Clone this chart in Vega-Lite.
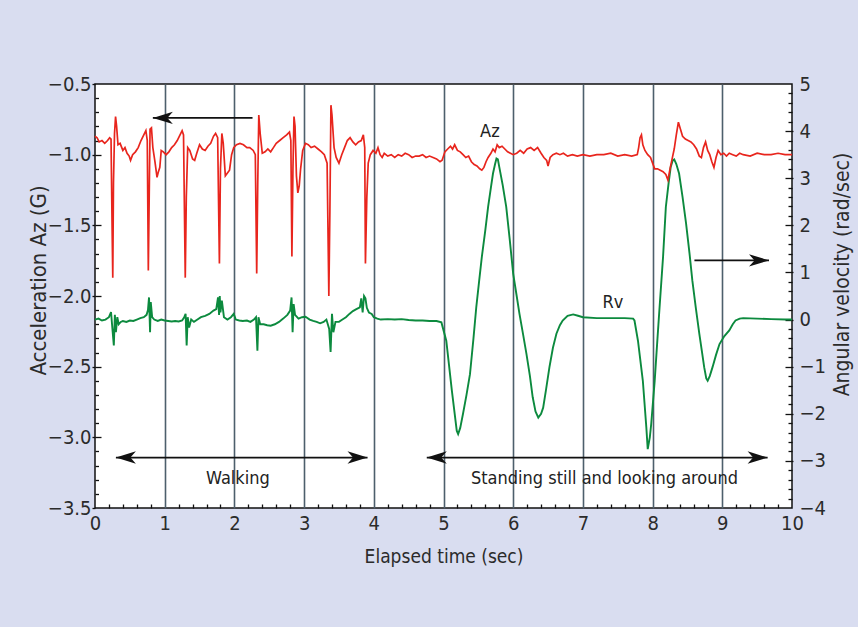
{
  "$schema": "https://vega.github.io/schema/vega-lite/v6.json",
  "width": 697,
  "height": 424,
  "autosize": {"type": "none"},
  "padding": {"left": 95, "top": 84, "right": 66, "bottom": 119},
  "background": "#d9ddf0",
  "config": {
    "view": {"fill": "white", "stroke": "#111111", "strokeWidth": 1.5},
    "axis": {
      "labelFont": "Liberation Sans Narrow, DejaVu Sans Condensed, Roboto Condensed, Arial Narrow, sans-serif",
      "titleFont": "Liberation Sans Narrow, DejaVu Sans Condensed, Roboto Condensed, Arial Narrow, sans-serif",
      "labelColor": "#2b2b2b",
      "titleColor": "#2b2b2b",
      "titleFontWeight": "normal",
      "labelFontSize": 20,
      "titleFontSize": 19,
      "domain": false,
      "grid": false,
      "labelFlush": false,
      "labelOverlap": false,
      "tickColor": "#111111",
      "tickWidth": 1.3
    },
    "text": {"font": "Liberation Sans Narrow, DejaVu Sans Condensed, Roboto Condensed, Arial Narrow, sans-serif"}
  },
  "datasets": {
    "az": [
      {"t":0.00,"v":-0.87},{"t":0.03,"v":-0.88},{"t":0.06,"v":-0.91},{"t":0.10,"v":-0.90},{"t":0.14,"v":-0.92},{"t":0.18,"v":-0.90},{"t":0.21,"v":-0.88},{"t":0.23,"v":-0.89},{"t":0.245,"v":-1.50},{"t":0.255,"v":-1.87},{"t":0.265,"v":-1.20},{"t":0.28,"v":-0.85},{"t":0.295,"v":-0.73},{"t":0.31,"v":-0.80},{"t":0.33,"v":-0.93},{"t":0.36,"v":-0.92},{"t":0.40,"v":-0.97},{"t":0.43,"v":-0.95},{"t":0.46,"v":-0.99},{"t":0.49,"v":-1.01},{"t":0.51,"v":-1.04},{"t":0.54,"v":-1.00},{"t":0.58,"v":-0.98},{"t":0.62,"v":-0.95},{"t":0.66,"v":-0.90},{"t":0.70,"v":-0.86},{"t":0.73,"v":-0.83},{"t":0.75,"v":-0.90},{"t":0.765,"v":-1.82},{"t":0.78,"v":-1.20},{"t":0.79,"v":-0.82},{"t":0.81,"v":-0.81},{"t":0.83,"v":-0.95},{"t":0.86,"v":-1.05},{"t":0.89,"v":-1.16},{"t":0.91,"v":-1.12},{"t":0.93,"v":-1.09},{"t":0.95,"v":-0.97},{"t":0.98,"v":-0.98},{"t":1.02,"v":-1.00},{"t":1.06,"v":-0.98},{"t":1.10,"v":-0.95},{"t":1.14,"v":-0.93},{"t":1.18,"v":-0.90},{"t":1.22,"v":-0.86},{"t":1.25,"v":-0.83},{"t":1.27,"v":-0.86},{"t":1.295,"v":-1.87},{"t":1.31,"v":-1.30},{"t":1.33,"v":-0.95},{"t":1.36,"v":-0.97},{"t":1.40,"v":-1.03},{"t":1.43,"v":-1.04},{"t":1.46,"v":-0.99},{"t":1.50,"v":-0.93},{"t":1.54,"v":-0.96},{"t":1.58,"v":-0.97},{"t":1.62,"v":-0.94},{"t":1.66,"v":-0.92},{"t":1.70,"v":-0.87},{"t":1.73,"v":-0.85},{"t":1.76,"v":-0.88},{"t":1.785,"v":-1.77},{"t":1.80,"v":-1.10},{"t":1.82,"v":-0.85},{"t":1.84,"v":-0.92},{"t":1.87,"v":-1.15},{"t":1.90,"v":-1.13},{"t":1.93,"v":-1.11},{"t":1.96,"v":-1.00},{"t":1.99,"v":-0.95},{"t":2.03,"v":-0.93},{"t":2.08,"v":-0.92},{"t":2.13,"v":-0.93},{"t":2.18,"v":-0.95},{"t":2.22,"v":-0.95},{"t":2.27,"v":-0.97},{"t":2.30,"v":-1.00},{"t":2.32,"v":-1.84},{"t":2.335,"v":-1.20},{"t":2.35,"v":-0.72},{"t":2.37,"v":-0.85},{"t":2.40,"v":-0.99},{"t":2.44,"v":-0.98},{"t":2.48,"v":-0.96},{"t":2.52,"v":-0.98},{"t":2.56,"v":-0.95},{"t":2.60,"v":-0.92},{"t":2.65,"v":-0.90},{"t":2.70,"v":-0.88},{"t":2.75,"v":-0.86},{"t":2.79,"v":-0.84},{"t":2.81,"v":-0.90},{"t":2.825,"v":-1.72},{"t":2.84,"v":-1.10},{"t":2.855,"v":-0.73},{"t":2.87,"v":-0.80},{"t":2.89,"v":-1.15},{"t":2.91,"v":-1.27},{"t":2.93,"v":-1.22},{"t":2.95,"v":-1.10},{"t":2.98,"v":-0.97},{"t":3.02,"v":-0.92},{"t":3.06,"v":-0.93},{"t":3.10,"v":-0.95},{"t":3.15,"v":-0.94},{"t":3.20,"v":-0.96},{"t":3.25,"v":-0.98},{"t":3.29,"v":-1.00},{"t":3.33,"v":-1.06},{"t":3.355,"v":-2.00},{"t":3.37,"v":-1.40},{"t":3.385,"v":-0.65},{"t":3.40,"v":-0.72},{"t":3.43,"v":-0.95},{"t":3.46,"v":-1.02},{"t":3.50,"v":-1.06},{"t":3.54,"v":-1.00},{"t":3.58,"v":-0.95},{"t":3.62,"v":-0.90},{"t":3.66,"v":-0.88},{"t":3.70,"v":-0.91},{"t":3.74,"v":-0.93},{"t":3.78,"v":-0.91},{"t":3.82,"v":-0.90},{"t":3.85,"v":-0.86},{"t":3.87,"v":-0.95},{"t":3.88,"v":-1.77},{"t":3.90,"v":-1.30},{"t":3.92,"v":-1.06},{"t":3.95,"v":-1.00},{"t":3.99,"v":-0.97},{"t":4.03,"v":-0.99},{"t":4.06,"v":-0.95},{"t":4.09,"v":-1.00},{"t":4.12,"v":-1.02},{"t":4.15,"v":-0.99},{"t":4.20,"v":-1.01},{"t":4.25,"v":-1.00},{"t":4.30,"v":-1.02},{"t":4.35,"v":-1.00},{"t":4.40,"v":-1.01},{"t":4.45,"v":-0.99},{"t":4.50,"v":-1.00},{"t":4.55,"v":-1.02},{"t":4.60,"v":-1.01},{"t":4.65,"v":-1.01},{"t":4.70,"v":-1.00},{"t":4.75,"v":-1.02},{"t":4.80,"v":-1.01},{"t":4.85,"v":-1.02},{"t":4.90,"v":-1.03},{"t":4.95,"v":-1.05},{"t":4.98,"v":-1.04},{"t":5.02,"v":-0.98},{"t":5.06,"v":-0.96},{"t":5.10,"v":-0.94},{"t":5.13,"v":-0.96},{"t":5.16,"v":-0.93},{"t":5.20,"v":-0.97},{"t":5.24,"v":-0.98},{"t":5.28,"v":-1.00},{"t":5.32,"v":-1.02},{"t":5.36,"v":-1.01},{"t":5.40,"v":-1.05},{"t":5.44,"v":-1.07},{"t":5.48,"v":-1.08},{"t":5.52,"v":-1.10},{"t":5.55,"v":-1.11},{"t":5.58,"v":-1.09},{"t":5.61,"v":-1.05},{"t":5.64,"v":-1.02},{"t":5.68,"v":-0.99},{"t":5.71,"v":-0.96},{"t":5.74,"v":-0.98},{"t":5.77,"v":-0.93},{"t":5.80,"v":-0.95},{"t":5.84,"v":-0.94},{"t":5.88,"v":-0.96},{"t":5.92,"v":-0.98},{"t":5.96,"v":-0.99},{"t":6.00,"v":-1.00},{"t":6.05,"v":-0.99},{"t":6.10,"v":-0.97},{"t":6.15,"v":-0.99},{"t":6.20,"v":-0.96},{"t":6.25,"v":-0.95},{"t":6.30,"v":-0.97},{"t":6.35,"v":-0.95},{"t":6.40,"v":-0.99},{"t":6.44,"v":-1.02},{"t":6.48,"v":-1.04},{"t":6.50,"v":-1.08},{"t":6.53,"v":-1.02},{"t":6.57,"v":-1.00},{"t":6.62,"v":-0.99},{"t":6.67,"v":-1.00},{"t":6.72,"v":-0.99},{"t":6.78,"v":-1.01},{"t":6.85,"v":-1.00},{"t":6.92,"v":-1.01},{"t":7.00,"v":-1.00},{"t":7.10,"v":-1.01},{"t":7.20,"v":-1.00},{"t":7.30,"v":-1.00},{"t":7.40,"v":-0.99},{"t":7.50,"v":-1.01},{"t":7.60,"v":-1.00},{"t":7.70,"v":-1.01},{"t":7.78,"v":-1.00},{"t":7.80,"v":-0.95},{"t":7.82,"v":-0.88},{"t":7.84,"v":-0.86},{"t":7.86,"v":-0.93},{"t":7.89,"v":-0.97},{"t":7.93,"v":-1.00},{"t":7.97,"v":-1.02},{"t":8.00,"v":-1.06},{"t":8.03,"v":-1.10},{"t":8.07,"v":-1.10},{"t":8.11,"v":-1.11},{"t":8.15,"v":-1.12},{"t":8.19,"v":-1.14},{"t":8.22,"v":-1.18},{"t":8.25,"v":-1.10},{"t":8.28,"v":-1.03},{"t":8.31,"v":-0.96},{"t":8.34,"v":-0.86},{"t":8.37,"v":-0.77},{"t":8.40,"v":-0.82},{"t":8.43,"v":-0.87},{"t":8.47,"v":-0.89},{"t":8.51,"v":-0.90},{"t":8.55,"v":-0.91},{"t":8.59,"v":-0.93},{"t":8.63,"v":-0.96},{"t":8.67,"v":-1.01},{"t":8.70,"v":-1.02},{"t":8.73,"v":-0.95},{"t":8.76,"v":-0.91},{"t":8.79,"v":-0.97},{"t":8.82,"v":-1.00},{"t":8.85,"v":-1.05},{"t":8.88,"v":-1.09},{"t":8.91,"v":-1.02},{"t":8.94,"v":-0.97},{"t":8.98,"v":-1.00},{"t":9.02,"v":-0.99},{"t":9.06,"v":-1.01},{"t":9.10,"v":-0.99},{"t":9.15,"v":-1.00},{"t":9.20,"v":-1.01},{"t":9.25,"v":-0.99},{"t":9.30,"v":-1.00},{"t":9.40,"v":-1.01},{"t":9.50,"v":-0.99},{"t":9.60,"v":-1.00},{"t":9.70,"v":-1.00},{"t":9.80,"v":-0.99},{"t":9.90,"v":-1.00},{"t":10.0,"v":-1.00}
    ],
    "rv": [
      {"t":0.00,"v":0.00},{"t":0.05,"v":0.02},{"t":0.10,"v":-0.02},{"t":0.15,"v":0.00},{"t":0.20,"v":0.05},{"t":0.23,"v":0.16},{"t":0.25,"v":-0.20},{"t":0.27,"v":-0.55},{"t":0.285,"v":0.10},{"t":0.30,"v":-0.27},{"t":0.32,"v":0.05},{"t":0.34,"v":-0.10},{"t":0.37,"v":-0.05},{"t":0.40,"v":-0.03},{"t":0.45,"v":-0.05},{"t":0.50,"v":-0.02},{"t":0.55,"v":-0.03},{"t":0.60,"v":0.00},{"t":0.65,"v":0.03},{"t":0.70,"v":0.05},{"t":0.74,"v":0.10},{"t":0.76,"v":0.20},{"t":0.775,"v":0.47},{"t":0.79,"v":-0.27},{"t":0.80,"v":0.37},{"t":0.82,"v":0.05},{"t":0.85,"v":0.00},{"t":0.90,"v":-0.03},{"t":0.95,"v":0.00},{"t":1.00,"v":-0.02},{"t":1.05,"v":-0.03},{"t":1.10,"v":-0.04},{"t":1.15,"v":-0.03},{"t":1.20,"v":-0.04},{"t":1.25,"v":-0.02},{"t":1.28,"v":0.05},{"t":1.30,"v":0.12},{"t":1.315,"v":-0.55},{"t":1.33,"v":0.05},{"t":1.35,"v":-0.17},{"t":1.38,"v":0.00},{"t":1.42,"v":-0.05},{"t":1.47,"v":0.00},{"t":1.52,"v":0.05},{"t":1.58,"v":0.08},{"t":1.64,"v":0.12},{"t":1.70,"v":0.19},{"t":1.74,"v":0.22},{"t":1.765,"v":0.47},{"t":1.78,"v":0.10},{"t":1.79,"v":0.50},{"t":1.80,"v":0.15},{"t":1.82,"v":0.40},{"t":1.85,"v":0.05},{"t":1.90,"v":0.00},{"t":1.95,"v":0.05},{"t":1.99,"v":0.12},{"t":2.02,"v":0.00},{"t":2.07,"v":-0.02},{"t":2.12,"v":-0.03},{"t":2.18,"v":-0.02},{"t":2.23,"v":-0.05},{"t":2.28,"v":0.00},{"t":2.31,"v":0.05},{"t":2.33,"v":-0.66},{"t":2.345,"v":0.05},{"t":2.37,"v":-0.10},{"t":2.42,"v":-0.10},{"t":2.47,"v":-0.12},{"t":2.52,"v":-0.13},{"t":2.58,"v":-0.10},{"t":2.64,"v":-0.05},{"t":2.70,"v":0.02},{"t":2.76,"v":0.10},{"t":2.80,"v":0.19},{"t":2.82,"v":0.47},{"t":2.835,"v":-0.27},{"t":2.85,"v":0.33},{"t":2.87,"v":0.10},{"t":2.92,"v":0.02},{"t":2.97,"v":0.05},{"t":3.02,"v":0.06},{"t":3.08,"v":0.00},{"t":3.13,"v":-0.03},{"t":3.18,"v":-0.05},{"t":3.23,"v":-0.08},{"t":3.28,"v":-0.05},{"t":3.32,"v":0.00},{"t":3.36,"v":-0.20},{"t":3.38,"v":-0.69},{"t":3.40,"v":0.12},{"t":3.42,"v":-0.27},{"t":3.45,"v":-0.05},{"t":3.50,"v":-0.05},{"t":3.55,"v":0.00},{"t":3.60,"v":0.05},{"t":3.65,"v":0.12},{"t":3.70,"v":0.18},{"t":3.75,"v":0.22},{"t":3.80,"v":0.26},{"t":3.82,"v":0.45},{"t":3.84,"v":0.15},{"t":3.86,"v":0.50},{"t":3.88,"v":0.45},{"t":3.90,"v":0.25},{"t":3.93,"v":0.15},{"t":3.97,"v":0.12},{"t":4.00,"v":0.05},{"t":4.05,"v":0.02},{"t":4.10,"v":0.00},{"t":4.20,"v":0.01},{"t":4.30,"v":0.00},{"t":4.40,"v":0.01},{"t":4.50,"v":-0.01},{"t":4.60,"v":-0.02},{"t":4.70,"v":-0.02},{"t":4.80,"v":-0.03},{"t":4.90,"v":-0.03},{"t":4.97,"v":-0.06},{"t":5.04,"v":-0.45},{"t":5.12,"v":-1.51},{"t":5.19,"v":-2.36},{"t":5.21,"v":-2.43},{"t":5.24,"v":-2.30},{"t":5.28,"v":-2.00},{"t":5.33,"v":-1.60},{"t":5.38,"v":-1.16},{"t":5.43,"v":-0.40},{"t":5.47,"v":0.26},{"t":5.51,"v":0.80},{"t":5.55,"v":1.33},{"t":5.60,"v":1.90},{"t":5.64,"v":2.39},{"t":5.68,"v":2.80},{"t":5.71,"v":3.10},{"t":5.74,"v":3.30},{"t":5.76,"v":3.42},{"t":5.78,"v":3.40},{"t":5.80,"v":3.24},{"t":5.85,"v":2.85},{"t":5.90,"v":2.39},{"t":5.95,"v":1.70},{"t":6.00,"v":0.97},{"t":6.05,"v":0.50},{"t":6.09,"v":0.12},{"t":6.14,"v":-0.30},{"t":6.19,"v":-0.73},{"t":6.24,"v":-1.20},{"t":6.28,"v":-1.65},{"t":6.32,"v":-1.95},{"t":6.36,"v":-2.08},{"t":6.40,"v":-2.00},{"t":6.43,"v":-1.87},{"t":6.47,"v":-1.50},{"t":6.52,"v":-1.01},{"t":6.57,"v":-0.60},{"t":6.62,"v":-0.30},{"t":6.67,"v":-0.12},{"t":6.71,"v":-0.02},{"t":6.78,"v":0.08},{"t":6.86,"v":0.11},{"t":6.93,"v":0.08},{"t":7.00,"v":0.05},{"t":7.20,"v":0.03},{"t":7.40,"v":0.03},{"t":7.60,"v":0.03},{"t":7.72,"v":0.02},{"t":7.74,"v":-0.02},{"t":7.79,"v":-0.45},{"t":7.86,"v":-1.30},{"t":7.91,"v":-2.29},{"t":7.93,"v":-2.75},{"t":7.96,"v":-2.50},{"t":7.98,"v":-2.22},{"t":8.03,"v":-1.30},{"t":8.07,"v":-0.40},{"t":8.10,"v":0.26},{"t":8.15,"v":1.33},{"t":8.19,"v":2.39},{"t":8.23,"v":2.90},{"t":8.26,"v":3.24},{"t":8.29,"v":3.38},{"t":8.31,"v":3.40},{"t":8.34,"v":3.30},{"t":8.38,"v":3.10},{"t":8.43,"v":2.60},{"t":8.48,"v":2.04},{"t":8.53,"v":1.40},{"t":8.57,"v":0.83},{"t":8.62,"v":0.25},{"t":8.67,"v":-0.30},{"t":8.71,"v":-0.70},{"t":8.74,"v":-1.01},{"t":8.77,"v":-1.25},{"t":8.79,"v":-1.30},{"t":8.82,"v":-1.20},{"t":8.86,"v":-1.01},{"t":8.91,"v":-0.75},{"t":8.96,"v":-0.52},{"t":9.03,"v":-0.35},{"t":9.10,"v":-0.23},{"t":9.15,"v":-0.10},{"t":9.19,"v":-0.02},{"t":9.25,"v":0.02},{"t":9.30,"v":0.03},{"t":9.50,"v":0.02},{"t":9.70,"v":0.01},{"t":9.90,"v":0.00},{"t":10.0,"v":0.00}
    ],
    "arrows": [
      {"t1":0.83,"t2":2.26,"y":-0.74},
      {"t1":0.30,"t2":3.91,"y":-3.143},
      {"t1":4.76,"t2":9.65,"y":-3.143},
      {"t1":8.60,"t2":9.67,"y":-1.748}
    ],
    "heads": [
      {"t":0.83,"y":-0.74,"dir":"L"},
      {"t":0.30,"y":-3.143,"dir":"L"},
      {"t":3.91,"y":-3.143,"dir":"R"},
      {"t":4.76,"y":-3.143,"dir":"L"},
      {"t":9.65,"y":-3.143,"dir":"R"},
      {"t":9.67,"y":-1.748,"dir":"R"}
    ],
    "notes": [
      {"t":2.05,"y":-3.294,"label":"Walking"},
      {"t":7.31,"y":-3.294,"label":"Standing still and looking around"},
      {"t":5.665,"y":-0.84,"label":"Az"},
      {"t":7.43,"y":-2.053,"label":"Rv"}
    ]
  },
  "resolve": {"scale": {"x": "independent", "y": "independent"}, "axis": {"x": "independent", "y": "independent"}},
  "layer": [
    {
      "data": {"name": "rv"},
      "mark": {"type": "line", "color": "#0c8a3e", "strokeWidth": 1.9},
      "encoding": {
        "x": {"field": "t", "type": "quantitative", "scale": {"domain": [0, 10], "nice": false, "zero": false},
              "axis": {"orient": "bottom", "values": [1,2,3,4,5,6,7,8,9], "grid": true, "gridColor": "#4d5f6c", "gridWidth": 1.6, "ticks": false, "labels": false, "title": null}},
        "y": {"field": "v", "type": "quantitative", "scale": {"domain": [-4, 5], "nice": false, "zero": false},
              "axis": {"orient": "right", "values": [-4,-3,-2,-1,0,1,2,3,4,5], "format": "d", "ticks": false, "labelPadding": 7, "labelBaseline": "middle",
                       "title": "Angular velocity  (rad/sec)", "titleFontSize": 21, "titleAngle": 270, "titleX": 50, "titleY": 190, "titleBaseline": "middle", "titleAlign": "center"}}
      }
    },
    {
      "data": {"name": "az"},
      "mark": {"type": "line", "color": "#e8251d", "strokeWidth": 1.7},
      "encoding": {
        "x": {"field": "t", "type": "quantitative", "scale": {"domain": [0, 10], "nice": false, "zero": false},
              "axis": {"orient": "bottom", "values": [0,1,2,3,4,5,6,7,8,9,10], "format": "d", "ticks": false, "labelPadding": 5, "title": "Elapsed time (sec)", "titleY": 48, "titleBaseline": "middle"}},
        "y": {"field": "v", "type": "quantitative", "scale": {"domain": [-3.5, -0.5], "nice": false, "zero": false},
              "axis": {"orient": "left", "values": [-3.5,-3,-2.5,-2,-1.5,-1,-0.5], "format": ".1f", "tickSize": 3, "labelPadding": 1, "labelBaseline": "middle",
                       "title": "Acceleration Az (G)", "titleFontSize": 22, "titleAngle": 270, "titleX": -57, "titleY": 196, "titleBaseline": "middle", "titleAlign": "center"}}
      }
    },
    {
      "data": {"name": "arrows"},
      "mark": {"type": "rule", "color": "#111111", "strokeWidth": 1.8},
      "encoding": {
        "x": {"field": "t1", "type": "quantitative", "scale": {"domain": [0, 10], "nice": false, "zero": false},
              "axis": {"orient": "bottom", "offset": -4, "tickSize": 4, "labels": false, "title": null,
                       "values": [0.2,0.4,0.6,0.8,1.2,1.4,1.6,1.8,2.2,2.4,2.6,2.8,3.2,3.4,3.6,3.8,4.2,4.4,4.6,4.8,5.2,5.4,5.6,5.8,6.2,6.4,6.6,6.8,7.2,7.4,7.6,7.8,8.2,8.4,8.6,8.8,9.2,9.4,9.6,9.8]}},
        "x2": {"field": "t2"},
        "y": {"field": "y", "type": "quantitative", "scale": {"domain": [-3.5, -0.5], "nice": false, "zero": false},
              "axis": {"orient": "left", "offset": -3.5, "tickSize": 3.5, "labels": false, "title": null,
                       "values": [-3.4,-3.3,-3.2,-3.1,-2.9,-2.8,-2.7,-2.6,-2.4,-2.3,-2.2,-2.1,-1.9,-1.8,-1.7,-1.6,-1.4,-1.3,-1.2,-1.1,-0.9,-0.8,-0.7,-0.6]}}
      }
    },
    {
      "data": {"name": "az"},
      "mark": {"type": "line", "opacity": 0},
      "encoding": {
        "x": {"field": "t", "type": "quantitative", "scale": {"domain": [0, 10], "nice": false, "zero": false}, "axis": null},
        "y": {"field": "v", "type": "quantitative", "scale": {"domain": [-3.5, -0.5], "nice": false, "zero": false},
              "axis": {"orient": "left", "offset": -6, "tickSize": 6, "labels": false, "title": null, "values": [-3,-2.5,-2,-1.5,-1]}}
      }
    },
    {
      "data": {"name": "rv"},
      "mark": {"type": "line", "opacity": 0},
      "encoding": {
        "x": {"field": "t", "type": "quantitative", "scale": {"domain": [0, 10], "nice": false, "zero": false}, "axis": null},
        "y": {"field": "v", "type": "quantitative", "scale": {"domain": [-4, 5], "nice": false, "zero": false},
              "axis": {"orient": "right", "offset": -4, "tickSize": 4, "labels": false, "title": null,
                       "values": [-3.8,-3.6,-3.4,-3.2,-2.8,-2.6,-2.4,-2.2,-1.8,-1.6,-1.4,-1.2,-0.8,-0.6,-0.4,-0.2,0.2,0.4,0.6,0.8,1.2,1.4,1.6,1.8,2.2,2.4,2.6,2.8,3.2,3.4,3.6,3.8,4.2,4.4,4.6,4.8]}}
      }
    },
    {
      "data": {"name": "rv"},
      "mark": {"type": "line", "opacity": 0},
      "encoding": {
        "x": {"field": "t", "type": "quantitative", "scale": {"domain": [0, 10], "nice": false, "zero": false}, "axis": null},
        "y": {"field": "v", "type": "quantitative", "scale": {"domain": [-4, 5], "nice": false, "zero": false},
              "axis": {"orient": "right", "offset": -7, "tickSize": 8, "labels": false, "title": null, "values": [-3,-2,-1,0,1,2,3,4]}}
      }
    },
    {
      "data": {"name": "heads"},
      "mark": {"type": "point", "filled": true, "color": "#111111", "size": 400, "opacity": 1},
      "encoding": {
        "x": {"field": "t", "type": "quantitative", "scale": {"domain": [0, 10], "nice": false, "zero": false}, "axis": null},
        "y": {"field": "y", "type": "quantitative", "scale": {"domain": [-3.5, -0.5], "nice": false, "zero": false}, "axis": null},
        "shape": {"field": "dir", "type": "nominal", "legend": null,
                  "scale": {"domain": ["L", "R"], "range": ["M0,0L2,-0.62L1.45,0L2,0.62Z", "M0,0L-2,-0.62L-1.45,0L-2,0.62Z"]}}
      }
    },
    {
      "data": {"name": "notes"},
      "mark": {"type": "text", "fontSize": 18, "color": "#222222", "baseline": "middle", "align": "center"},
      "encoding": {
        "x": {"field": "t", "type": "quantitative", "scale": {"domain": [0, 10], "nice": false, "zero": false}, "axis": null},
        "y": {"field": "y", "type": "quantitative", "scale": {"domain": [-3.5, -0.5], "nice": false, "zero": false}, "axis": null},
        "text": {"field": "label"}
      }
    }
  ]
}
